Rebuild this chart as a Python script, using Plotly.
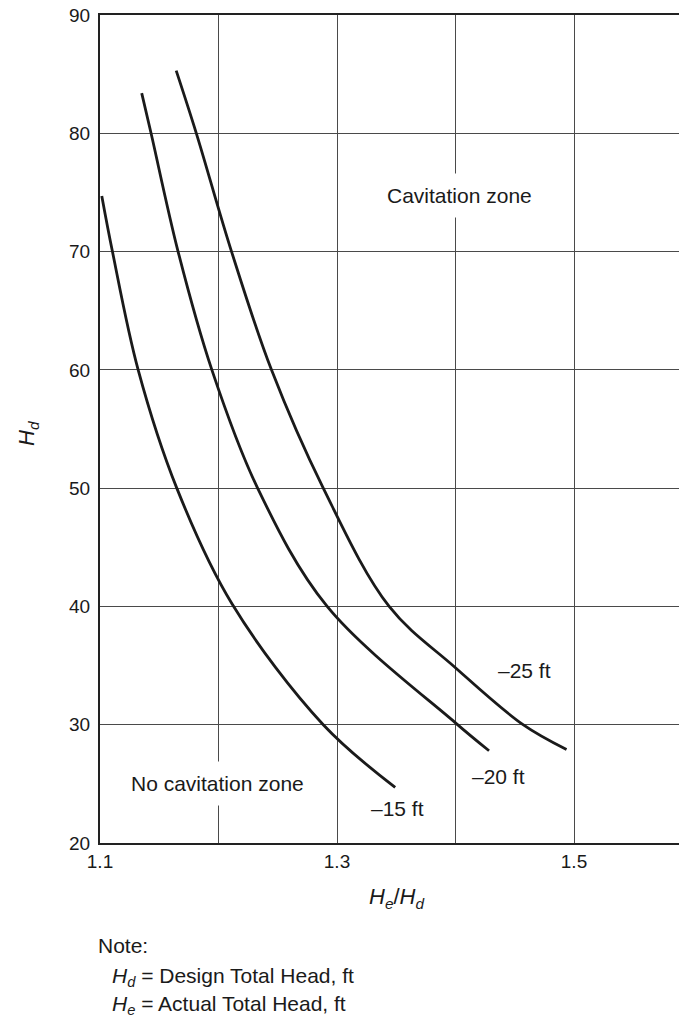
import plotly.graph_objects as go

# Axis ticks: labelled major ticks, plus unlabelled grid positions between them
x_ticks = [1.1, 1.3, 1.5]
x_tick_text = ["1.1", "1.3", "1.5"]
x_minor_grid = [1.2, 1.4]
y_ticks = [20, 30, 40, 50, 60, 70, 80, 90]
y_tick_text = ["20", "30", "40", "50", "60", "70", "80", "90"]

# Cavitation limit curves: He/Hd vs Hd for each allowable pressure head
curve_names = ["–15 ft", "–20 ft", "–25 ft"]
curve_15_x = [1.1015, 1.1105, 1.1322, 1.1648, 1.2115, 1.2884, 1.3491]
curve_15_y = [74.7, 70.0, 60.0, 50.0, 40.2, 30.0, 24.7]
curve_20_x = [1.1352, 1.1431, 1.1659, 1.1944, 1.2330, 1.2917, 1.3995, 1.4283]
curve_20_y = [83.4, 80.0, 70.0, 60.0, 50.0, 40.0, 30.2, 27.8]
curve_25_x = [1.1643, 1.1813, 1.2110, 1.2447, 1.2884, 1.3440, 1.3990, 1.4570, 1.4937]
curve_25_y = [85.3, 80.0, 70.0, 60.0, 50.0, 40.0, 34.9, 30.0, 27.9]

# Curve label anchor points (He/Hd, Hd)
label_x = [1.351, 1.436, 1.458]
label_y = [22.9, 25.6, 34.6]

FONT = "Liberation Sans, Arial, Helvetica, sans-serif"
INK = "#1a1a1a"
GRID = "#4a4a4a"

fig = go.Figure()
for xs, ys in [(curve_15_x, curve_15_y), (curve_20_x, curve_20_y), (curve_25_x, curve_25_y)]:
    fig.add_trace(go.Scatter(
        x=xs, y=ys, mode="lines",
        line=dict(color=INK, width=2.8, shape="spline", smoothing=1.0),
        showlegend=False, hoverinfo="skip",
    ))

annotations = []
for name, lx, ly in zip(curve_names, label_x, label_y):
    annotations.append(dict(x=lx, y=ly, xref="x", yref="y", text=name, showarrow=False,
                            font=dict(family=FONT, size=21, color=INK)))

annotations += [
    dict(x=1.403, y=74.75, xref="x", yref="y", text="Cavitation zone", showarrow=False,
         bgcolor="white", borderpad=10, font=dict(family=FONT, size=21, color=INK)),
    dict(x=1.199, y=25.0, xref="x", yref="y", text="No cavitation zone", showarrow=False,
         bgcolor="white", borderpad=10, font=dict(family=FONT, size=21, color=INK)),
    # y-axis title
    dict(x=-0.124, y=54.6, xref="paper", yref="y", xanchor="center", yanchor="middle",
         text="<i>H</i><sub><i>d</i></sub>",
         textangle=-90, showarrow=False, font=dict(family=FONT, size=22, color=INK)),
    # x-axis title
    dict(x=1.350, y=-0.066, xref="x", yref="paper", xanchor="center", yanchor="middle",
         text="<i>H</i><sub><i>e</i></sub>/<i>H</i><sub><i>d</i></sub>",
         showarrow=False, font=dict(family=FONT, size=22, color=INK)),
    # Note block
    dict(x=-0.007, y=-0.124, xref="paper", yref="paper", xanchor="left", yanchor="middle",
         text="Note:", showarrow=False, font=dict(family=FONT, size=21, color=INK)),
    dict(x=0.017, y=-0.162, xref="paper", yref="paper", xanchor="left", yanchor="middle",
         text="<i>H</i><sub><i>d</i></sub> = Design Total Head, ft",
         showarrow=False, font=dict(family=FONT, size=21, color=INK)),
    dict(x=0.017, y=-0.196, xref="paper", yref="paper", xanchor="left", yanchor="middle",
         text="<i>H</i><sub><i>e</i></sub> = Actual Total Head, ft",
         showarrow=False, font=dict(family=FONT, size=21, color=INK)),
]

fig.update_layout(
    width=679, height=1021,
    margin=dict(l=100, r=0, t=15, b=178),
    paper_bgcolor="white", plot_bgcolor="white",
    annotations=annotations,
    font=dict(family=FONT, color=INK),
)
fig.update_xaxes(
    range=[1.1, 1.5886], tickvals=x_ticks, ticktext=x_tick_text,
    showgrid=True, gridcolor=GRID, gridwidth=1.2,
    minor=dict(tickvals=x_minor_grid, showgrid=True, gridcolor=GRID, gridwidth=1.2, ticks=""),
    showline=True, linecolor="#222222", linewidth=2.2, mirror=True,
    ticks="", tickfont=dict(family=FONT, size=19, color=INK), zeroline=False,
)
fig.update_yaxes(
    range=[20, 90], tickvals=y_ticks, ticktext=y_tick_text,
    showgrid=True, gridcolor=GRID, gridwidth=1.2,
    showline=True, linecolor="#222222", linewidth=2.2, mirror=False,
    ticks="", ticklabelstandoff=4,
    tickfont=dict(family=FONT, size=19, color=INK), zeroline=False,
)

fig.write_html("out.html")
